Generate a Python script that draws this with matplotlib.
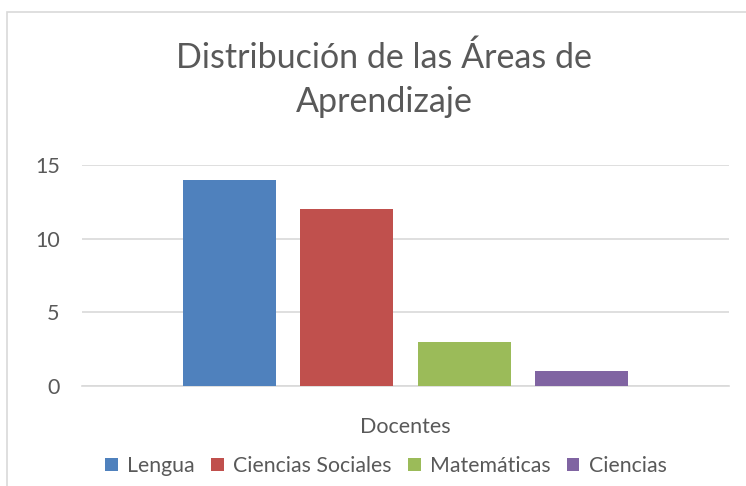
import matplotlib
matplotlib.use("Agg")
import matplotlib.pyplot as plt
from matplotlib.patches import Rectangle

categories = ["Docentes"]
series = ["Lengua", "Ciencias Sociales", "Matemáticas", "Ciencias"]
values = [14, 12, 3, 1]
colors = ["#4f81bd", "#c0504d", "#9bbb59", "#8064a2"]
yticks = [0, 5, 10, 15]
title = "Distribución de las Áreas de\nAprendizaje"

plt.rcParams['font.family'] = ['Lato', 'DejaVu Sans']
txt = "#595959"

W, H = 746, 486
fig = plt.figure(figsize=(W/100, H/100), dpi=100)
fig.patch.set_facecolor("white")

# chart border
fig.add_artist(Rectangle((7/W, -0.01), 1.0, 1 - 12/H + 0.01, transform=fig.transFigure,
                         fill=False, edgecolor="#d9d9d9", linewidth=1.2))

left, right = 82/W, 729/W
bottom, top = 1 - 386/H, 1 - 165/H
ax = fig.add_axes([left, bottom, right-left, top-bottom])

bw = 0.1437
step = 0.1809
n = len(series)
for i, (s, v, c) in enumerate(zip(series, values, colors)):
    x = (i - (n-1)/2) * step
    ax.bar(x, v, width=bw, color=c, label=s, zorder=3)

ax.set_xlim(-0.5, 0.5)
ax.set_ylim(0, 15)
ax.set_yticks(yticks)
ax.set_yticklabels([str(t) for t in yticks])
ax.set_xticks([0])
ax.set_xticklabels(categories)
ax.tick_params(axis='both', length=0, labelsize=15.5, colors=txt)
ax.tick_params(axis='x', pad=22)
ax.tick_params(axis='y', pad=16)
ax.yaxis.grid(True, color="#d9d9d9", linewidth=1.2, zorder=0)
for sp in ["top", "right", "left"]:
    ax.spines[sp].set_visible(False)
ax.spines["bottom"].set_color("#d9d9d9")
ax.spines["bottom"].set_linewidth(1.2)

fig.text(384/W, 1 - 80/H, title, ha="center", va="center", fontsize=24.5, color=txt,
         linespacing=1.45)

leg = fig.legend(loc="center", bbox_to_anchor=(386/W, 1 - 466/H), ncol=4, frameon=False,
                 fontsize=15.3, handlelength=0.6, handleheight=0.6, handletextpad=0.45,
                 columnspacing=0.75, labelcolor=txt)

fig.savefig("out.png", dpi=100)
